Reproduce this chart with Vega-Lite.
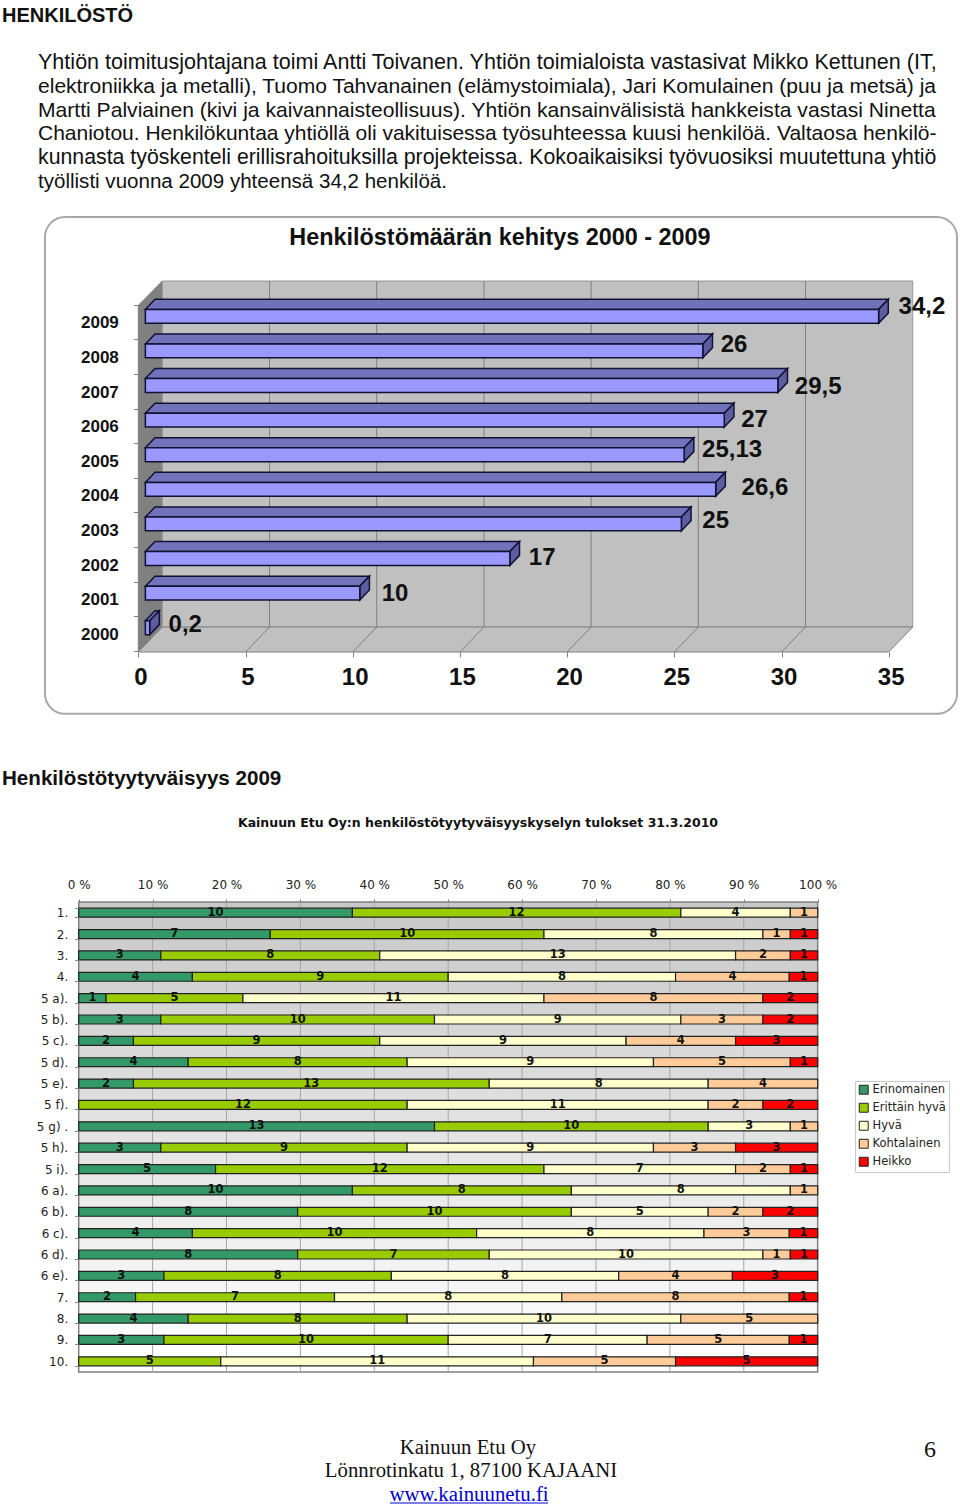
{"$schema":"https://vega.github.io/schema/vega-lite/v6.json","padding":0,"autosize":{"type":"pad"},"background":"white","spacing":0,
"data":{"values":[{"a":1}]},
"config":{"view":{"stroke":null},"concat":{"spacing":0}},
"datasets":{
"bars":[{"year":2000,"value":0.2,"label":"0,2"},{"year":2001,"value":10,"label":"10"},{"year":2002,"value":17,"label":"17"},{"year":2003,"value":25,"label":"25"},{"year":2004,"value":26.6,"label":"26,6"},{"year":2005,"value":25.13,"label":"25,13"},{"year":2006,"value":27,"label":"27"},{"year":2007,"value":29.5,"label":"29,5"},{"year":2008,"value":26,"label":"26"},{"year":2009,"value":34.2,"label":"34,2"}],
"corners":[
{"year":2000,"value":0.2,"c":0},{"year":2000,"value":0.2,"c":1},{"year":2000,"value":0.2,"c":2},{"year":2000,"value":0.2,"c":3},
{"year":2001,"value":10,"c":0},{"year":2001,"value":10,"c":1},{"year":2001,"value":10,"c":2},{"year":2001,"value":10,"c":3},
{"year":2002,"value":17,"c":0},{"year":2002,"value":17,"c":1},{"year":2002,"value":17,"c":2},{"year":2002,"value":17,"c":3},
{"year":2003,"value":25,"c":0},{"year":2003,"value":25,"c":1},{"year":2003,"value":25,"c":2},{"year":2003,"value":25,"c":3},
{"year":2004,"value":26.6,"c":0},{"year":2004,"value":26.6,"c":1},{"year":2004,"value":26.6,"c":2},{"year":2004,"value":26.6,"c":3},
{"year":2005,"value":25.13,"c":0},{"year":2005,"value":25.13,"c":1},{"year":2005,"value":25.13,"c":2},{"year":2005,"value":25.13,"c":3},
{"year":2006,"value":27,"c":0},{"year":2006,"value":27,"c":1},{"year":2006,"value":27,"c":2},{"year":2006,"value":27,"c":3},
{"year":2007,"value":29.5,"c":0},{"year":2007,"value":29.5,"c":1},{"year":2007,"value":29.5,"c":2},{"year":2007,"value":29.5,"c":3},
{"year":2008,"value":26,"c":0},{"year":2008,"value":26,"c":1},{"year":2008,"value":26,"c":2},{"year":2008,"value":26,"c":3},
{"year":2009,"value":34.2,"c":0},{"year":2009,"value":34.2,"c":1},{"year":2009,"value":34.2,"c":2},{"year":2009,"value":34.2,"c":3}],
"survey":[
{"q":"1.","level":"Erinomainen","k":1,"n":10},{"q":"1.","level":"Erittäin hyvä","k":2,"n":12},{"q":"1.","level":"Hyvä","k":3,"n":4},{"q":"1.","level":"Kohtalainen","k":4,"n":1},
{"q":"2.","level":"Erinomainen","k":1,"n":7},{"q":"2.","level":"Erittäin hyvä","k":2,"n":10},{"q":"2.","level":"Hyvä","k":3,"n":8},{"q":"2.","level":"Kohtalainen","k":4,"n":1},{"q":"2.","level":"Heikko","k":5,"n":1},
{"q":"3.","level":"Erinomainen","k":1,"n":3},{"q":"3.","level":"Erittäin hyvä","k":2,"n":8},{"q":"3.","level":"Hyvä","k":3,"n":13},{"q":"3.","level":"Kohtalainen","k":4,"n":2},{"q":"3.","level":"Heikko","k":5,"n":1},
{"q":"4.","level":"Erinomainen","k":1,"n":4},{"q":"4.","level":"Erittäin hyvä","k":2,"n":9},{"q":"4.","level":"Hyvä","k":3,"n":8},{"q":"4.","level":"Kohtalainen","k":4,"n":4},{"q":"4.","level":"Heikko","k":5,"n":1},
{"q":"5 a).","level":"Erinomainen","k":1,"n":1},{"q":"5 a).","level":"Erittäin hyvä","k":2,"n":5},{"q":"5 a).","level":"Hyvä","k":3,"n":11},{"q":"5 a).","level":"Kohtalainen","k":4,"n":8},{"q":"5 a).","level":"Heikko","k":5,"n":2},
{"q":"5 b).","level":"Erinomainen","k":1,"n":3},{"q":"5 b).","level":"Erittäin hyvä","k":2,"n":10},{"q":"5 b).","level":"Hyvä","k":3,"n":9},{"q":"5 b).","level":"Kohtalainen","k":4,"n":3},{"q":"5 b).","level":"Heikko","k":5,"n":2},
{"q":"5 c).","level":"Erinomainen","k":1,"n":2},{"q":"5 c).","level":"Erittäin hyvä","k":2,"n":9},{"q":"5 c).","level":"Hyvä","k":3,"n":9},{"q":"5 c).","level":"Kohtalainen","k":4,"n":4},{"q":"5 c).","level":"Heikko","k":5,"n":3},
{"q":"5 d).","level":"Erinomainen","k":1,"n":4},{"q":"5 d).","level":"Erittäin hyvä","k":2,"n":8},{"q":"5 d).","level":"Hyvä","k":3,"n":9},{"q":"5 d).","level":"Kohtalainen","k":4,"n":5},{"q":"5 d).","level":"Heikko","k":5,"n":1},
{"q":"5 e).","level":"Erinomainen","k":1,"n":2},{"q":"5 e).","level":"Erittäin hyvä","k":2,"n":13},{"q":"5 e).","level":"Hyvä","k":3,"n":8},{"q":"5 e).","level":"Kohtalainen","k":4,"n":4},
{"q":"5 f).","level":"Erittäin hyvä","k":2,"n":12},{"q":"5 f).","level":"Hyvä","k":3,"n":11},{"q":"5 f).","level":"Kohtalainen","k":4,"n":2},{"q":"5 f).","level":"Heikko","k":5,"n":2},
{"q":"5 g) .","level":"Erinomainen","k":1,"n":13},{"q":"5 g) .","level":"Erittäin hyvä","k":2,"n":10},{"q":"5 g) .","level":"Hyvä","k":3,"n":3},{"q":"5 g) .","level":"Kohtalainen","k":4,"n":1},
{"q":"5 h).","level":"Erinomainen","k":1,"n":3},{"q":"5 h).","level":"Erittäin hyvä","k":2,"n":9},{"q":"5 h).","level":"Hyvä","k":3,"n":9},{"q":"5 h).","level":"Kohtalainen","k":4,"n":3},{"q":"5 h).","level":"Heikko","k":5,"n":3},
{"q":"5 i).","level":"Erinomainen","k":1,"n":5},{"q":"5 i).","level":"Erittäin hyvä","k":2,"n":12},{"q":"5 i).","level":"Hyvä","k":3,"n":7},{"q":"5 i).","level":"Kohtalainen","k":4,"n":2},{"q":"5 i).","level":"Heikko","k":5,"n":1},
{"q":"6 a).","level":"Erinomainen","k":1,"n":10},{"q":"6 a).","level":"Erittäin hyvä","k":2,"n":8},{"q":"6 a).","level":"Hyvä","k":3,"n":8},{"q":"6 a).","level":"Kohtalainen","k":4,"n":1},
{"q":"6 b).","level":"Erinomainen","k":1,"n":8},{"q":"6 b).","level":"Erittäin hyvä","k":2,"n":10},{"q":"6 b).","level":"Hyvä","k":3,"n":5},{"q":"6 b).","level":"Kohtalainen","k":4,"n":2},{"q":"6 b).","level":"Heikko","k":5,"n":2},
{"q":"6 c).","level":"Erinomainen","k":1,"n":4},{"q":"6 c).","level":"Erittäin hyvä","k":2,"n":10},{"q":"6 c).","level":"Hyvä","k":3,"n":8},{"q":"6 c).","level":"Kohtalainen","k":4,"n":3},{"q":"6 c).","level":"Heikko","k":5,"n":1},
{"q":"6 d).","level":"Erinomainen","k":1,"n":8},{"q":"6 d).","level":"Erittäin hyvä","k":2,"n":7},{"q":"6 d).","level":"Hyvä","k":3,"n":10},{"q":"6 d).","level":"Kohtalainen","k":4,"n":1},{"q":"6 d).","level":"Heikko","k":5,"n":1},
{"q":"6 e).","level":"Erinomainen","k":1,"n":3},{"q":"6 e).","level":"Erittäin hyvä","k":2,"n":8},{"q":"6 e).","level":"Hyvä","k":3,"n":8},{"q":"6 e).","level":"Kohtalainen","k":4,"n":4},{"q":"6 e).","level":"Heikko","k":5,"n":3},
{"q":"7.","level":"Erinomainen","k":1,"n":2},{"q":"7.","level":"Erittäin hyvä","k":2,"n":7},{"q":"7.","level":"Hyvä","k":3,"n":8},{"q":"7.","level":"Kohtalainen","k":4,"n":8},{"q":"7.","level":"Heikko","k":5,"n":1},
{"q":"8.","level":"Erinomainen","k":1,"n":4},{"q":"8.","level":"Erittäin hyvä","k":2,"n":8},{"q":"8.","level":"Hyvä","k":3,"n":10},{"q":"8.","level":"Kohtalainen","k":4,"n":5},
{"q":"9.","level":"Erinomainen","k":1,"n":3},{"q":"9.","level":"Erittäin hyvä","k":2,"n":10},{"q":"9.","level":"Hyvä","k":3,"n":7},{"q":"9.","level":"Kohtalainen","k":4,"n":5},{"q":"9.","level":"Heikko","k":5,"n":1},
{"q":"10.","level":"Erittäin hyvä","k":2,"n":5},{"q":"10.","level":"Hyvä","k":3,"n":11},{"q":"10.","level":"Kohtalainen","k":4,"n":5},{"q":"10.","level":"Heikko","k":5,"n":5}
]},
"vconcat":[
{"width":960,"height":205,"data":{"values":[
{"line":1,"text":"Yhtiön toimitusjohtajana toimi Antti Toivanen.  Yhtiön toimialoista vastasivat Mikko Kettunen (IT,"},
{"line":2,"text":"elektroniikka ja metalli), Tuomo Tahvanainen (elämystoimiala), Jari Komulainen (puu ja metsä) ja"},
{"line":3,"text":"Martti Palviainen (kivi ja kaivannaisteollisuus). Yhtiön kansainvälisistä hankkeista vastasi Ninetta"},
{"line":4,"text":"Chaniotou. Henkilökuntaa yhtiöllä oli vakituisessa työsuhteessa kuusi henkilöä. Valtaosa henkilö-"},
{"line":5,"text":"kunnasta työskenteli erillisrahoituksilla projekteissa. Kokoaikaisiksi työvuosiksi muutettuna yhtiö"},
{"line":6,"text":"työllisti vuonna 2009 yhteensä 34,2 henkilöä."}]},
"layer":[
{"mark":{"type":"text","align":"left","baseline":"middle","font":"Liberation Sans","color":"#111"},
"encoding":{"x":{"datum":38,"type":"quantitative","scale":{"domain":[0,960],"nice":false,"zero":false},"axis":null},
"y":{"field":"line","type":"quantitative","scale":{"domain":[6.966,-1.647],"nice":false,"zero":false},"axis":null},"text":{"field":"text"},
"size":{"condition":[{"test":"datum.line==1","value":21.55},{"test":"datum.line==2","value":21.05},{"test":"datum.line==3","value":21.1},{"test":"datum.line==4","value":21},{"test":"datum.line==5","value":21.3}],"value":20.55}}},
{"data":{"values":[{"a":2}]},"mark":{"type":"text","align":"left","baseline":"middle","font":"Liberation Sans","fontSize":20,"fontWeight":"bold","color":"#111","text":"HENKILÖSTÖ"},
"encoding":{"x":{"datum":2,"type":"quantitative","axis":null},"y":{"datum":-0.98,"type":"quantitative","axis":null}}}
]},
{"width":960,"height":540,
"layer":[
{"data":{"values":[{"x":-4.352,"x2":38.185,"y":2011.87,"y2":1997.51}]},"mark":{"type":"rect","fill":"white","stroke":"#a8a8a8","strokeWidth":2,"cornerRadius":20},
"encoding":{"x":{"field":"x","type":"quantitative","scale":{"domain":[-6.4506,38.325],"nice":false,"zero":false},"axis":{"title":null,"values":[0,5,10,15,20,25,30,35],"domain":false,"grid":false,"offset":-93,"tickSize":5,"tickColor":"#808080","labelFont":"Liberation Sans","labelFontWeight":"bold","labelFontSize":24,"labelColor":"#111","labelPadding":8,"labelOffset":2,"zindex":1,"labelFlush":false,"labelOverlap":false}},
"x2":{"field":"x2"},
"y":{"field":"y","type":"quantitative","scale":{"domain":[1996.61,2012.217],"nice":false,"zero":false},"axis":{"title":null,"values":[1999.33,2000.33,2001.33,2002.33,2003.33,2004.33,2005.33,2006.33,2007.33,2008.33,2009.33],"labelExpr":"datum.value<2000?'':''+floor(datum.value)","domain":false,"grid":false,"offset":-138.3,"tickSize":5,"tickColor":"#808080","labelFont":"Liberation Sans","labelFontWeight":"bold","labelFontSize":17,"labelColor":"#111","labelPadding":15,"labelOffset":18,"zindex":1,"labelOverlap":false,"labelFlush":false}},
"y2":{"field":"y2"}}},
{"mark":{"type":"text","font":"Liberation Sans","fontWeight":"bold","fontSize":23.4,"baseline":"middle","color":"#111","text":"Henkilöstömäärän kehitys 2000 - 2009"},
"encoding":{"x":{"datum":16.87,"type":"quantitative"},"y":{"datum":2011.263,"type":"quantitative"}}},
{"data":{"values":[{"x":0,"lo":1999.297,"hi":2009.315},{"x":1.12,"lo":2000.02,"hi":2010.02}]},
"mark":{"type":"area","fill":"#808080","stroke":"#808080","strokeWidth":1},
"encoding":{"x":{"field":"x","type":"quantitative"},"y":{"field":"lo","type":"quantitative"},"y2":{"field":"hi"}}},
{"data":{"values":[{"x":1.12,"x2":36.12,"y":2000.02,"y2":2010.02}]},"mark":{"type":"rect","fill":"#c0c0c0","stroke":"#969696","strokeWidth":1},
"encoding":{"x":{"field":"x","type":"quantitative"},"x2":{"field":"x2"},"y":{"field":"y","type":"quantitative"},"y2":{"field":"y2"}}},
{"data":{"values":[{"x":0,"lo":1999.297,"hi":1999.297},{"x":1.12,"lo":1999.297,"hi":2000.02},{"x":35,"lo":1999.297,"hi":2000.02},{"x":36.12,"lo":2000.02,"hi":2000.02}]},
"mark":{"type":"area","fill":"#c0c0c0","stroke":"#808080","strokeWidth":1},
"encoding":{"x":{"field":"x","type":"quantitative"},"y":{"field":"lo","type":"quantitative"},"y2":{"field":"hi"}}},
{"data":{"values":[{"x":6.12,"x2":6.12,"y":2000.02,"y2":2010.02},{"x":11.12,"x2":11.12,"y":2000.02,"y2":2010.02},{"x":16.12,"x2":16.12,"y":2000.02,"y2":2010.02},{"x":21.12,"x2":21.12,"y":2000.02,"y2":2010.02},{"x":26.12,"x2":26.12,"y":2000.02,"y2":2010.02},{"x":31.12,"x2":31.12,"y":2000.02,"y2":2010.02},{"x":5,"x2":6.12,"y":1999.297,"y2":2000.02},{"x":10,"x2":11.12,"y":1999.297,"y2":2000.02},{"x":15,"x2":16.12,"y":1999.297,"y2":2000.02},{"x":20,"x2":21.12,"y":1999.297,"y2":2000.02},{"x":25,"x2":26.12,"y":1999.297,"y2":2000.02},{"x":30,"x2":31.12,"y":1999.297,"y2":2000.02}]},
"mark":{"type":"rule","color":"#808080","strokeWidth":1},
"encoding":{"x":{"field":"x","type":"quantitative"},"x2":{"field":"x2"},"y":{"field":"y","type":"quantitative"},"y2":{"field":"y2"}}},
{"data":{"name":"corners"},
"transform":[{"calculate":"0.33+((datum.c==1||datum.c==3)?0.45:0)+(datum.c>=2?datum.value:0)","as":"px"},
{"calculate":"datum.year+0.2+max(0,datum.px-0.33-datum.value)/0.45*0.29","as":"lo"},
{"calculate":"datum.year+0.2+min(1,(datum.px-0.33)/0.45)*0.29","as":"hi"}],
"mark":{"type":"area","fill":"#7272ba","stroke":"#111133","strokeWidth":1.5},
"encoding":{"detail":{"field":"year"},"x":{"field":"px","type":"quantitative"},"y":{"field":"lo","type":"quantitative"},"y2":{"field":"hi"}}},
{"data":{"name":"corners"},
"transform":[{"filter":"datum.c>=2"},{"calculate":"0.33+(datum.c==3?0.45:0)+datum.value","as":"px"},
{"calculate":"datum.c==2?datum.year-0.2:datum.year+0.09","as":"lo"},
{"calculate":"datum.c==2?datum.year+0.2:datum.year+0.49","as":"hi"}],
"mark":{"type":"area","fill":"#5c5ca0","stroke":"#111133","strokeWidth":1.5},
"encoding":{"detail":{"field":"year"},"x":{"field":"px","type":"quantitative"},"y":{"field":"lo","type":"quantitative"},"y2":{"field":"hi"}}},
{"data":{"name":"bars"},
"transform":[{"calculate":"0.33","as":"start"},{"calculate":"0.33+datum.value","as":"end"},{"calculate":"datum.year-0.2","as":"lo"},{"calculate":"datum.year+0.2","as":"hi"}],
"mark":{"type":"rect","fill":"#9999ff","stroke":"#111133","strokeWidth":1.5},
"encoding":{"x":{"field":"start","type":"quantitative"},"x2":{"field":"end"},"y":{"field":"lo","type":"quantitative"},"y2":{"field":"hi"}}},
{"data":{"name":"bars"},"transform":[{"filter":"datum.year==2009"}],"mark":{"type":"text","align":"left","baseline":"middle","font":"Liberation Sans","fontWeight":"bold","fontSize":24,"color":"#111","dx":27,"dy":-9},"encoding":{"x":{"field":"value","type":"quantitative"},"y":{"field":"year","type":"quantitative"},"text":{"field":"label"}}},
{"data":{"name":"bars"},"transform":[{"filter":"datum.year==2008"}],"mark":{"type":"text","align":"left","baseline":"middle","font":"Liberation Sans","fontWeight":"bold","fontSize":24,"color":"#111","dx":25,"dy":-6},"encoding":{"x":{"field":"value","type":"quantitative"},"y":{"field":"year","type":"quantitative"},"text":{"field":"label"}}},
{"data":{"name":"bars"},"transform":[{"filter":"datum.year==2007"}],"mark":{"type":"text","align":"left","baseline":"middle","font":"Liberation Sans","fontWeight":"bold","fontSize":24,"color":"#111","dx":24,"dy":1},"encoding":{"x":{"field":"value","type":"quantitative"},"y":{"field":"year","type":"quantitative"},"text":{"field":"label"}}},
{"data":{"name":"bars"},"transform":[{"filter":"datum.year==2006"}],"mark":{"type":"text","align":"left","baseline":"middle","font":"Liberation Sans","fontWeight":"bold","fontSize":24,"color":"#111","dx":24,"dy":0},"encoding":{"x":{"field":"value","type":"quantitative"},"y":{"field":"year","type":"quantitative"},"text":{"field":"label"}}},
{"data":{"name":"bars"},"transform":[{"filter":"datum.year==2005"}],"mark":{"type":"text","align":"left","baseline":"middle","font":"Liberation Sans","fontWeight":"bold","fontSize":24,"color":"#111","dx":25,"dy":-5},"encoding":{"x":{"field":"value","type":"quantitative"},"y":{"field":"year","type":"quantitative"},"text":{"field":"label"}}},
{"data":{"name":"bars"},"transform":[{"filter":"datum.year==2004"}],"mark":{"type":"text","align":"left","baseline":"middle","font":"Liberation Sans","fontWeight":"bold","fontSize":24,"color":"#111","dx":33,"dy":-1},"encoding":{"x":{"field":"value","type":"quantitative"},"y":{"field":"year","type":"quantitative"},"text":{"field":"label"}}},
{"data":{"name":"bars"},"transform":[{"filter":"datum.year==2003"}],"mark":{"type":"text","align":"left","baseline":"middle","font":"Liberation Sans","fontWeight":"bold","fontSize":24,"color":"#111","dx":28,"dy":-3},"encoding":{"x":{"field":"value","type":"quantitative"},"y":{"field":"year","type":"quantitative"},"text":{"field":"label"}}},
{"data":{"name":"bars"},"transform":[{"filter":"datum.year==2002"}],"mark":{"type":"text","align":"left","baseline":"middle","font":"Liberation Sans","fontWeight":"bold","fontSize":24,"color":"#111","dx":26,"dy":-1},"encoding":{"x":{"field":"value","type":"quantitative"},"y":{"field":"year","type":"quantitative"},"text":{"field":"label"}}},
{"data":{"name":"bars"},"transform":[{"filter":"datum.year==2001"}],"mark":{"type":"text","align":"left","baseline":"middle","font":"Liberation Sans","fontWeight":"bold","fontSize":24,"color":"#111","dx":29,"dy":1},"encoding":{"x":{"field":"value","type":"quantitative"},"y":{"field":"year","type":"quantitative"},"text":{"field":"label"}}},
{"data":{"name":"bars"},"transform":[{"filter":"datum.year==2000"}],"mark":{"type":"text","align":"left","baseline":"middle","font":"Liberation Sans","fontWeight":"bold","fontSize":24,"color":"#111","dx":26,"dy":-3},"encoding":{"x":{"field":"value","type":"quantitative"},"y":{"field":"year","type":"quantitative"},"text":{"field":"label"}}}
]},
{"width":960,"height":133,
"layer":[
{"mark":{"type":"text","align":"left","baseline":"middle","font":"Liberation Sans","fontWeight":"bold","fontSize":20.6,"color":"#111","text":"Henkilöstötyytyväisyys 2009"},
"encoding":{"x":{"datum":2,"type":"quantitative","scale":{"domain":[0,960],"nice":false,"zero":false},"axis":null},"y":{"datum":779,"type":"quantitative","scale":{"domain":[878,745],"nice":false,"zero":false},"axis":null}}},
{"mark":{"type":"text","align":"center","baseline":"middle","font":"DejaVu Sans","fontWeight":"bold","fontSize":12.5,"color":"#111","text":"Kainuun Etu Oy:n henkilöstötyytyväisyyskyselyn tulokset 31.3.2010"},
"encoding":{"x":{"datum":478,"type":"quantitative","axis":null},"y":{"datum":823,"type":"quantitative","axis":null}}}
]},
{"width":960,"height":470,
"layer":[
{"data":{"values":[{"x":0,"x2":1}]},"mark":{"type":"rect","stroke":"#808080","strokeWidth":1.5,"fill":{"gradient":"linear","x1":0,"y1":0,"x2":0,"y2":1,"stops":[{"offset":0,"color":"#c8c8c8"},{"offset":1,"color":"#ffffff"}]}},
"encoding":{"x":{"field":"x","type":"quantitative","scale":{"domain":[-0.1065,1.1926],"nice":false,"zero":false},"axis":{"title":null,"orient":"top","values":[0,0.1,0.2,0.3,0.4,0.5,0.6,0.7,0.8,0.9,1],"labelExpr":"round(datum.value*100)+' %'","domain":false,"grid":false,"tickSize":3,"tickColor":"#808080","labelFont":"DejaVu Sans","labelFontSize":12,"labelColor":"#222","labelPadding":8,"zindex":1,"labelFlush":false,"labelOverlap":false}},"x2":{"field":"x2"}}},
{"data":{"values":[{"p":0.1},{"p":0.2},{"p":0.3},{"p":0.4},{"p":0.5},{"p":0.6},{"p":0.7},{"p":0.8},{"p":0.9}]},
"mark":{"type":"rule","color":"#a6a6a6","strokeWidth":1},"encoding":{"x":{"field":"p","type":"quantitative"}}},
{"data":{"name":"survey"},
"transform":[{"window":[{"op":"sum","field":"n","as":"cum"}],"groupby":["q"],"sort":[{"field":"k","order":"ascending"}]},{"joinaggregate":[{"op":"sum","field":"n","as":"tot"}],"groupby":["q"]},{"calculate":"(datum.cum-datum.n)/datum.tot","as":"s0"},{"calculate":"datum.cum/datum.tot","as":"s1"}],
"mark":{"type":"bar","stroke":"#222","strokeWidth":1.2},
"encoding":{"y":{"field":"q","type":"nominal","sort":null,"scale":{"domain":["1.","2.","3.","4.","5 a).","5 b).","5 c).","5 d).","5 e).","5 f).","5 g) .","5 h).","5 i).","6 a).","6 b).","6 c).","6 d).","6 e).","7.","8.","9.","10."],"paddingInner":0.58,"paddingOuter":0.29},"axis":{"title":null,"offset":-78.7,"tickBand":"extent","domain":false,"grid":false,"tickSize":4,"tickColor":"#808080","labelFont":"DejaVu Sans","labelFontSize":12,"labelColor":"#222","labelPadding":7,"zindex":1}},
"x":{"field":"s0","type":"quantitative"},"x2":{"field":"s1"},
"color":{"field":"level","type":"nominal","scale":{"domain":["Erinomainen","Erittäin hyvä","Hyvä","Kohtalainen","Heikko"],"range":["#339966","#99cc00","#ffffcc","#ffcc99","#ff0000"]},"legend":{"title":null,"orient":"none","legendX":855,"legendY":1081,"symbolType":"square","symbolSize":80,"symbolStrokeColor":"#222","symbolStrokeWidth":1,"labelFont":"DejaVu Sans","labelFontSize":11.5,"labelColor":"#222","labelOffset":3,"strokeColor":"#c8c8c8","fillColor":"#ffffff","padding":3,"rowPadding":4}}}},
{"data":{"name":"survey"},
"transform":[{"window":[{"op":"sum","field":"n","as":"cum"}],"groupby":["q"],"sort":[{"field":"k","order":"ascending"}]},{"joinaggregate":[{"op":"sum","field":"n","as":"tot"}],"groupby":["q"]},{"calculate":"(datum.cum-datum.n/2)/datum.tot","as":"mid"}],
"mark":{"type":"text","font":"DejaVu Sans","fontWeight":"bold","fontSize":11.5,"baseline":"middle","color":"#111"},
"encoding":{"y":{"field":"q","type":"nominal","sort":null},"x":{"field":"mid","type":"quantitative"},"text":{"field":"n"}}}
]},
{"width":960,"height":136,
"layer":[
{"mark":{"type":"text","align":"center","baseline":"middle","font":"Liberation Serif","fontSize":20.8,"color":"#111","text":"Kainuun Etu Oy"},
"encoding":{"x":{"datum":468,"type":"quantitative","scale":{"domain":[0,960],"nice":false,"zero":false},"axis":null},"y":{"datum":1448,"type":"quantitative","scale":{"domain":[1509,1373],"nice":false,"zero":false},"axis":null}}},
{"mark":{"type":"text","align":"center","baseline":"middle","font":"Liberation Serif","fontSize":20.8,"color":"#111","text":"Lönnrotinkatu 1, 87100 KAJAANI"},
"encoding":{"x":{"datum":471,"type":"quantitative","axis":null},"y":{"datum":1471,"type":"quantitative","axis":null}}},
{"mark":{"type":"text","align":"center","baseline":"middle","font":"Liberation Serif","fontSize":20.8,"color":"#0000cc","text":"www.kainuunetu.fi"},
"encoding":{"x":{"datum":469,"type":"quantitative","axis":null},"y":{"datum":1495,"type":"quantitative","axis":null}}},
{"data":{"values":[{"x":390,"x2":548,"y":1503}]},"mark":{"type":"rule","color":"#0000cc","strokeWidth":1},
"encoding":{"x":{"field":"x","type":"quantitative","axis":null},"x2":{"field":"x2"},"y":{"field":"y","type":"quantitative","axis":null}}},
{"mark":{"type":"text","align":"center","baseline":"middle","font":"Liberation Serif","fontSize":24,"color":"#111","text":"6"},
"encoding":{"x":{"datum":930,"type":"quantitative","axis":null},"y":{"datum":1450,"type":"quantitative","axis":null}}}
]}
]}
